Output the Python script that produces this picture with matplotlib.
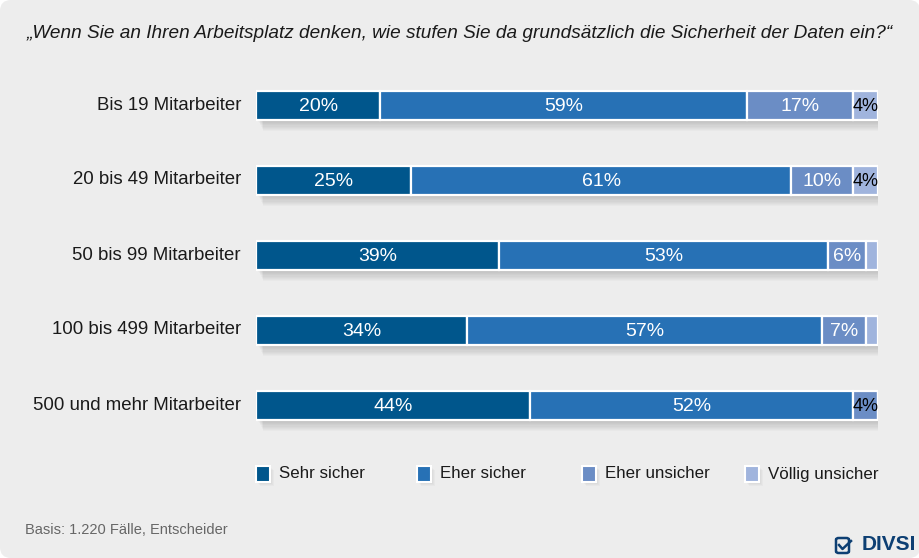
import matplotlib.pyplot as plt
from matplotlib.patches import FancyBboxPatch, Rectangle

plt.rcParams['font.family'] = ['Liberation Sans', 'DejaVu Sans']

# Data
groups = ['Bis 19 Mitarbeiter', '20 bis 49 Mitarbeiter', '50 bis 99 Mitarbeiter',
          '100 bis 499 Mitarbeiter', '500 und mehr Mitarbeiter']
series = ['Sehr sicher', 'Eher sicher', 'Eher unsicher', 'Völlig unsicher']
sehr_sicher = [20, 25, 39, 34, 44]
eher_sicher = [59, 61, 53, 57, 52]
eher_unsicher = [17, 10, 6, 7, 4]
voellig_unsicher = [4, 4, 2, 2, 0]
values = [sehr_sicher, eher_sicher, eher_unsicher, voellig_unsicher]
colors = ['#00568c', '#2771b5', '#6b8dc5', '#a0b4dd']

W, H = 920, 558
fig = plt.figure(figsize=(W / 100, H / 100), dpi=100, facecolor='white')

# rounded gray card
card = FancyBboxPatch((0.0, 0.0), 1.0, 1.0, boxstyle='round,pad=0,rounding_size=0.012',
                      transform=fig.transFigure, facecolor='#ededed', edgecolor='none', zorder=-10,
                      mutation_aspect=W / H)
fig.patches.append(card)

ax = fig.add_axes([256 / W, 1 - 442.5 / H, 622 / W, 375 / H])
ax.set_facecolor('none')
ax.set_xlim(0, 100)
ax.set_ylim(4.5, -0.5)
ax.axis('off')

bh = 29 / 75
# soft shadow under each bar (stack of faint offset rectangles)
for i in range(len(groups)):
    for k in range(10):
        off = 0.015 + k * 0.016
        ax.add_patch(Rectangle((0.3 + k * 0.1, i - bh / 2 + off), 100 + k * 0.15, bh,
                               facecolor='black', alpha=0.018, edgecolor='none', zorder=1))

left = [0] * len(groups)
for s, (vals, c) in enumerate(zip(values, colors)):
    ax.barh(range(len(groups)), vals, left=left, height=bh, color=c,
            edgecolor='white', linewidth=1.6, zorder=3)
    for i, v in enumerate(vals):
        if v >= 4:
            tc = 'black' if v <= 4 else 'white'
            ax.text(left[i] + v / 2, i + 0.02, f'{v}%', ha='center', va='center',
                    color=tc, fontsize=14 if v > 4 else 13, zorder=4)
    left = [l + v for l, v in zip(left, vals)]

for i, g in enumerate(groups):
    ax.text(-15 / 6.22, i, g, ha='right', va='center', fontsize=13.4, color='#1a1a1a')

fig.text(460 / W, 1 - 33 / H,
         '„Wenn Sie an Ihren Arbeitsplatz denken, wie stufen Sie da grundsätzlich die Sicherheit der Daten ein?“',
         ha='center', va='center', fontsize=13.7, style='italic', color='#1a1a1a')

# legend
leg_x = [256, 417, 582, 745]
for x, lab, c in zip(leg_x, series, colors):
    for k in range(4):
        fig.patches.append(Rectangle(((x + 1 + k) / W, 1 - (483 + k) / H), 14 / W, 16 / H,
                                     transform=fig.transFigure, facecolor='black', alpha=0.025,
                                     edgecolor='none'))
    fig.patches.append(Rectangle((x / W, 1 - 482 / H), 14 / W, 16 / H, transform=fig.transFigure,
                                 facecolor=c, edgecolor='white', linewidth=1.5))
    fig.text((x + 23) / W, 1 - 474 / H, lab, ha='left', va='center', fontsize=12.2, color='#1a1a1a')

fig.text(25 / W, 1 - 530 / H, 'Basis: 1.220 Fälle, Entscheider', ha='left', va='center',
         fontsize=10.5, color='#666666')

# DIVSI logo
fig.text(916 / W, 1 - 545 / H, 'DIVSI', ha='right', va='center', fontsize=15,
         fontweight='bold', color='#0d3f73')
fig.patches.append(FancyBboxPatch((836 / W, 1 - 553 / H), 13 / W, 15 / H,
                                  boxstyle='round,pad=0,rounding_size=0.003',
                                  transform=fig.transFigure, facecolor='none',
                                  edgecolor='#0d3f73', linewidth=1.8))
fig.lines.append(plt.Line2D([839 / W, 842.5 / W, 851 / W], [1 - 545 / H, 1 - 549 / H, 1 - 541 / H],
                            transform=fig.transFigure, color='#0d3f73', linewidth=1.8))

fig.savefig('out.png', dpi=100, facecolor='white')
